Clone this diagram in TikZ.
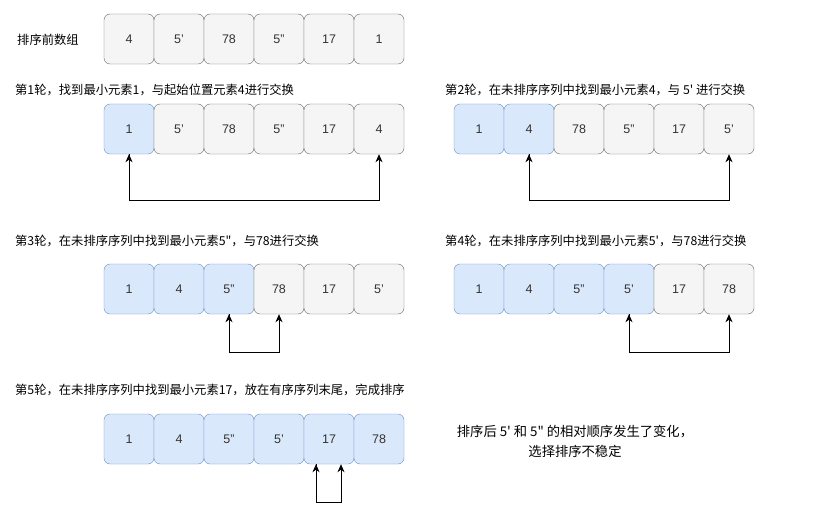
\documentclass[tikz,border=0pt]{standalone}
\usepackage{fontspec}
\setmainfont{Liberation Sans}
\newfontfamily\cjk{Noto Sans CJK SC}
\usetikzlibrary{arrows.meta}
\definecolor{gf}{HTML}{F5F5F5}\definecolor{gs}{HTML}{666666}
\definecolor{bf}{HTML}{DAE8FC}\definecolor{bs}{HTML}{6C8EBF}
\begin{document}
\begin{tikzpicture}[x=1pt,y=-1pt,
 cell/.style={draw=gs,fill=gf,rounded corners=6pt,minimum width=50pt,minimum height=50pt,inner sep=0pt,font=\fontsize{12.5}{14}\selectfont\color{black!80}},
 blue/.style={cell,draw=bs,fill=bf},
 lbl/.style={anchor=west,inner sep=0pt,font=\cjk\fontsize{12.3}{14}\selectfont},
 arr/.style={-{Stealth[length=8pt,width=7pt,inset=2.5pt]},line width=1pt}]
\useasboundingbox (0,0) rectangle (831,511);
\newcommand{\myrow}[4]{%
 \foreach [count=\i] \s/\t in {#4} {\node[\s] (#1\i) at (#2+25+50*\i-50,#3) {\t};}}
\node[lbl] (t0) at (17,40) {排序前数组};
\myrow{a}{104}{39}{cell/4,cell/5',cell/78,cell/5",cell/17,cell/1}
\node[lbl] (t1) at (15,90) {第1轮，找到最小元素1，与起始位置元素4进行交换};
\myrow{b}{104}{129}{blue/1,cell/5',cell/78,cell/5",cell/17,cell/4}
\node[lbl] (t2) at (445,90) {第2轮，在未排序序列中找到最小元素4，与 5' 进行交换};
\myrow{c}{454}{129}{blue/1,blue/4,cell/78,cell/5",cell/17,cell/5'}
\node[lbl] (t3) at (15,241) {第3轮，在未排序序列中找到最小元素5"，与78进行交换};
\myrow{d}{104}{289}{blue/1,blue/4,blue/5",cell/78,cell/17,cell/5'}
\node[lbl] (t4) at (445,241) {第4轮，在未排序序列中找到最小元素5'，与78进行交换};
\myrow{e}{454}{289}{blue/1,blue/4,blue/5",blue/5',cell/17,cell/78}
\node[lbl] (t5) at (15,390) {第5轮，在未排序序列中找到最小元素17，放在有序序列末尾，完成排序};
\myrow{f}{104}{439}{blue/1,blue/4,blue/5",blue/5',blue/17,blue/78}
\node[align=center,font=\cjk\fontsize{13.3}{20}\selectfont] (note) at (575,441) {排序后 5' 和 5" 的相对顺序发生了变化，\\选择排序不稳定};
\draw[arr] (b1.south) -- ++(0,46) -| (b6.south);
\draw[arr] (b6.south) ++(0,46) -| (b1.south);
\draw[arr] (c2.south) -- ++(0,46) -| (c6.south);
\draw[arr] (c6.south) ++(0,46) -| (c2.south);
\draw[arr] (d3.south) -- ++(0,38) -| (d4.south);
\draw[arr] (d4.south) ++(0,38) -| (d3.south);
\draw[arr] (e4.south) -- ++(0,38) -| (e6.south);
\draw[arr] (e6.south) ++(0,38) -| (e4.south);
\coordinate (fl) at ([xshift=-13pt]f5.south);
\coordinate (fr) at ([xshift=12pt]f5.south);
\draw[arr] (fl) -- ++(0,38) -| (fr);
\draw[arr] (fr) ++(0,38) -| (fl);
\end{tikzpicture}
\end{document}
